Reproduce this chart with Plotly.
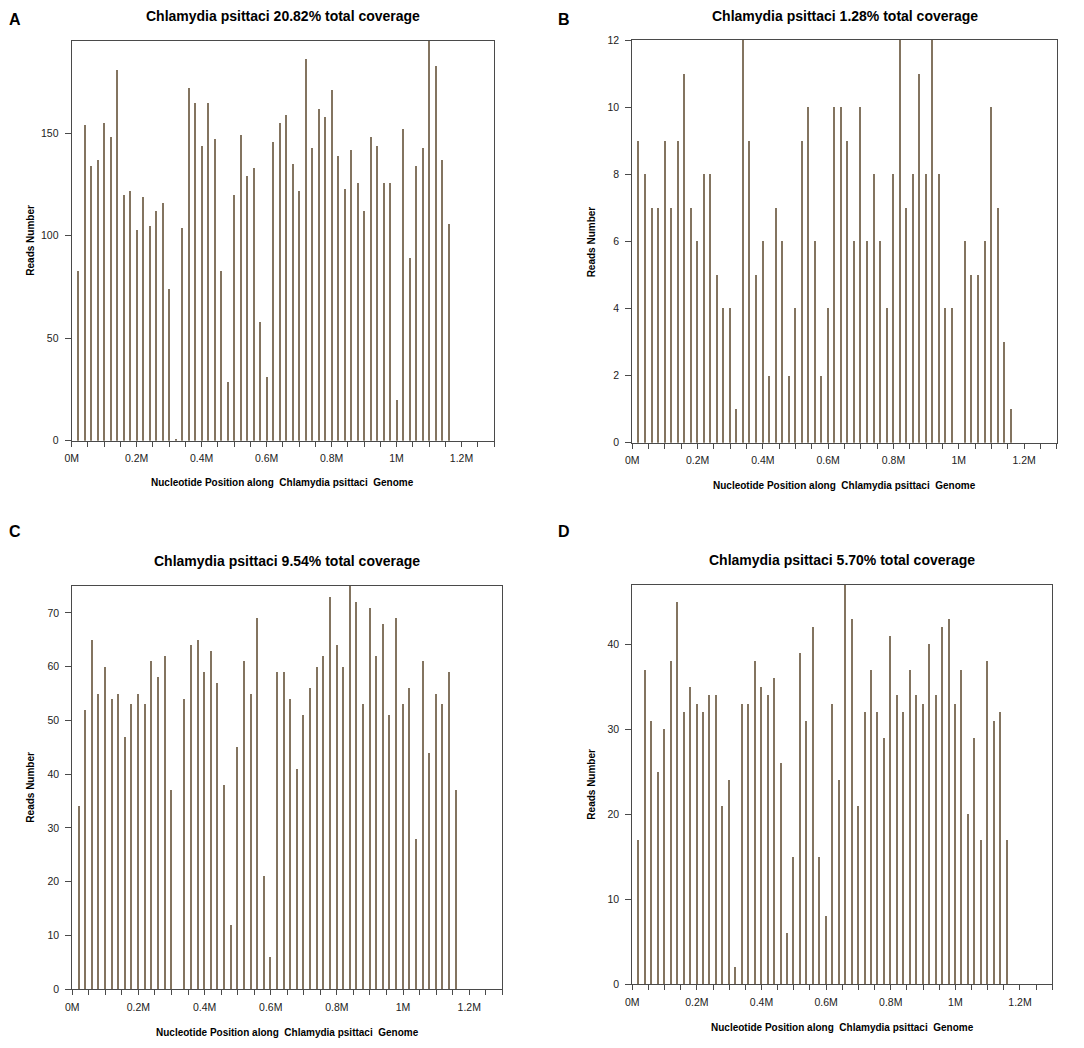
import plotly.graph_objects as go

# bin centres along the genome, in Mb
positions = [0.02, 0.04, 0.06, 0.08, 0.10, 0.12, 0.14, 0.16, 0.18, 0.20,
             0.22, 0.24, 0.26, 0.28, 0.30, 0.32, 0.34, 0.36, 0.38, 0.40,
             0.42, 0.44, 0.46, 0.48, 0.50, 0.52, 0.54, 0.56, 0.58, 0.60,
             0.62, 0.64, 0.66, 0.68, 0.70, 0.72, 0.74, 0.76, 0.78, 0.80,
             0.82, 0.84, 0.86, 0.88, 0.90, 0.92, 0.94, 0.96, 0.98, 1.00,
             1.02, 1.04, 1.06, 1.08, 1.10, 1.12, 1.14, 1.16]

# reads per bin for the four samples
reads_a = [83, 154, 134, 137, 155, 148, 181, 120, 122, 103,
           119, 105, 112, 116, 74, 1, 104, 172, 165, 144,
           165, 147, 83, 29, 120, 149, 129, 133, 58, 31,
           146, 155, 159, 135, 122, 186, 143, 162, 158, 171,
           139, 123, 142, 126, 112, 148, 144, 126, 126, 20,
           152, 89, 134, 143, 195, 183, 137, 106]
reads_b = [9, 8, 7, 7, 9, 7, 9, 11, 7, 6,
           8, 8, 5, 4, 4, 1, 12, 9, 5, 6,
           2, 7, 6, 2, 4, 9, 10, 6, 2, 4,
           10, 10, 9, 6, 10, 6, 8, 6, 4, 8,
           12, 7, 8, 11, 8, 12, 8, 4, 4, 0,
           6, 5, 5, 6, 10, 7, 3, 1]
reads_c = [34, 52, 65, 55, 60, 54, 55, 47, 53, 55,
           53, 61, 58, 62, 37, 0, 54, 64, 65, 59,
           63, 57, 38, 12, 45, 61, 55, 69, 21, 6,
           59, 59, 54, 41, 51, 56, 60, 62, 73, 64,
           60, 75, 72, 53, 71, 62, 68, 51, 69, 53,
           56, 28, 61, 44, 55, 53, 59, 37]
reads_d = [17, 37, 31, 25, 30, 38, 45, 32, 35, 33,
           32, 34, 34, 21, 24, 2, 33, 33, 38, 35,
           34, 36, 26, 6, 15, 39, 31, 42, 15, 8,
           33, 24, 47, 43, 21, 32, 37, 32, 29, 41,
           34, 32, 37, 34, 33, 40, 34, 42, 43, 33,
           37, 20, 29, 17, 38, 31, 32, 17]

letters = ["A", "B", "C", "D"]
coverage = ["20.82%", "1.28%", "9.54%", "5.70%"]
y_max = [195, 12, 75, 47]
y_step = [50, 2, 10, 10]
x_ticks = [0, 0.2, 0.4, 0.6, 0.8, 1.0, 1.2]
x_tick_text = ["0M", "0.2M", "0.4M", "0.6M", "0.8M", "1M", "1.2M"]

# the page body has an 8px margin, so the figure sits inside it
OFF = 8
W, H = 1084 - 2 * OFF, 1048 - 2 * OFF
FONT = "Liberation Sans, Arial, Helvetica, sans-serif"
BAR = "#837460"
FRAME = "#4a4a4a"

# frame boxes in window pixels: left, right, top, bottom
frames = [(71.7, 494.0, 40.7, 440.7),
          (632.3, 1056.7, 40.0, 442.7),
          (72.3, 502.3, 586.0, 989.3),
          (632.3, 1052.3, 585.0, 984.3)]
letter_pos = [(15, 19), (564, 19), (15, 531), (564, 531)]
title_y = [16, 16, 561, 560]
xtitle_y = [483, 486, 1032, 1027]
ytitle_x = [31, 591, 31, 592]


def px(x):
    return (x - OFF) / W


def py(y):
    return 1 - (y - OFF) / H


fig = go.Figure()
annotations = []
all_reads = [reads_a, reads_b, reads_c, reads_d]

for i in range(4):
    n = "" if i == 0 else str(i + 1)
    left, right, top, bottom = frames[i]
    fig.add_trace(go.Bar(x=positions, y=all_reads[i], width=0.0035,
                         marker=dict(color=BAR, line=dict(width=0)),
                         xaxis="x" + n, yaxis="y" + n, showlegend=False))

    fig.update_layout(**{
        "xaxis" + n: dict(
            domain=[px(left), px(right)], anchor="y" + n, automargin=False,
            range=[0, 1.3], tickmode="array", tickvals=x_ticks, ticktext=x_tick_text,
            ticks="outside", ticklen=5, tickwidth=1, tickcolor=FRAME,
            ticklabelstandoff=3,
            minor=dict(tickmode="linear", tick0=0, dtick=0.05, ticks="outside",
                       ticklen=5, tickwidth=1, tickcolor=FRAME),
            showline=True, linecolor=FRAME, linewidth=1.2, mirror=True,
            showgrid=False, zeroline=False,
            tickfont=dict(family=FONT, size=10.5, color="#222222"),
        ),
        "yaxis" + n: dict(
            domain=[py(bottom), py(top)], anchor="x" + n, automargin=False,
            range=[0, y_max[i]], tickmode="linear", tick0=0, dtick=y_step[i],
            ticks="outside", ticklen=6, tickwidth=1, tickcolor=FRAME,
            ticklabelstandoff=4,
            showline=True, linecolor=FRAME, linewidth=1.2, mirror=True,
            showgrid=False, zeroline=False,
            tickfont=dict(family=FONT, size=10.5, color="#222222"),
        ),
    })

    cx = (left + right) / 2
    annotations.append(dict(x=px(letter_pos[i][0]), y=py(letter_pos[i][1]),
                            text="<b>" + letters[i] + "</b>", showarrow=False,
                            xref="paper", yref="paper", xanchor="center", yanchor="middle",
                            font=dict(family=FONT, size=16, color="black")))
    annotations.append(dict(x=px(cx), y=py(title_y[i]),
                            text="<b>Chlamydia psittaci " + coverage[i] + " total coverage</b>",
                            showarrow=False, xref="paper", yref="paper",
                            xanchor="center", yanchor="middle",
                            font=dict(family=FONT, size=14, color="black")))
    annotations.append(dict(x=px(cx), y=py(xtitle_y[i]),
                            text="<b>Nucleotide Position along  Chlamydia psittaci  Genome</b>",
                            showarrow=False, xref="paper", yref="paper",
                            xanchor="center", yanchor="middle",
                            font=dict(family=FONT, size=10, color="black")))
    annotations.append(dict(x=px(ytitle_x[i]), y=py((top + bottom) / 2),
                            text="<b>Reads Number</b>", textangle=-90,
                            showarrow=False, xref="paper", yref="paper",
                            xanchor="center", yanchor="middle",
                            font=dict(family=FONT, size=10, color="black")))

fig.update_layout(width=W, height=H, margin=dict(l=0, r=0, t=0, b=0),
                  paper_bgcolor="white", plot_bgcolor="white",
                  bargap=0, annotations=annotations)

fig.write_html("out.html")
